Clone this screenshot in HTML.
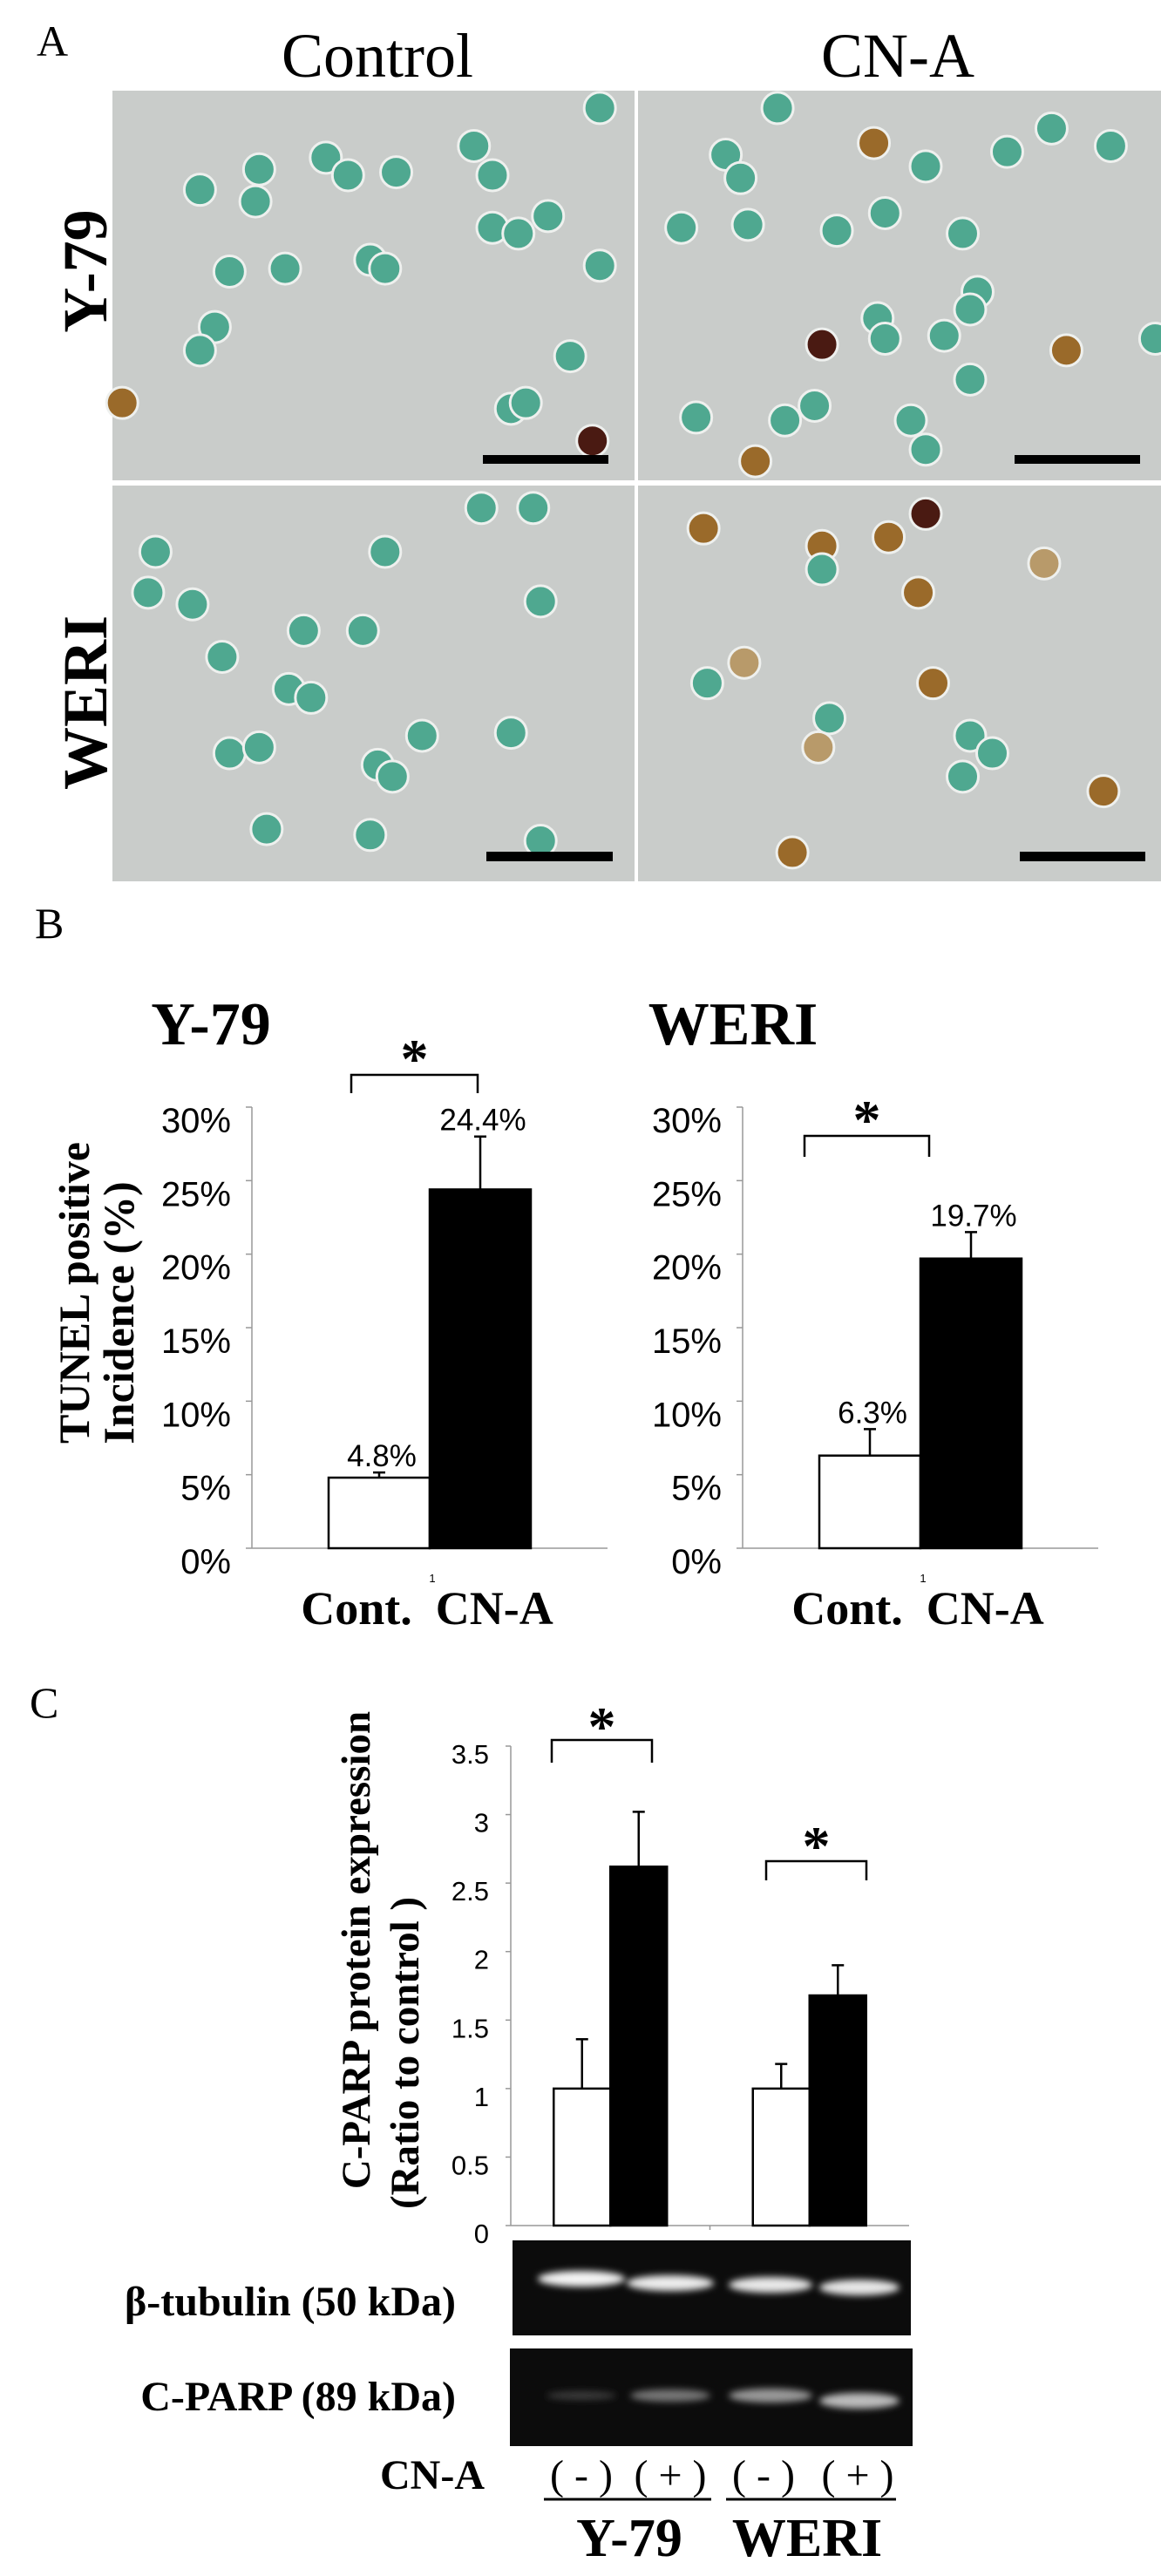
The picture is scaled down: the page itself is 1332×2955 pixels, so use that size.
<!DOCTYPE html>
<html><head><meta charset="utf-8"><title>TUNEL and C-PARP figure</title>
<style>
html,body{margin:0;padding:0;background:#fff;}
svg{display:block;}
.serifb{font-family:"Liberation Serif",serif;font-weight:bold;}
.serif{font-family:"Liberation Serif",serif;}
.sans{font-family:"Liberation Sans",sans-serif;}
</style></head>
<body>
<svg id="fig" xmlns="http://www.w3.org/2000/svg" width="1332" height="2955" viewBox="0 0 1332 2955">
<rect x="0" y="0" width="1332" height="2955" fill="#fff"/>
<!-- Panel A -->
<text class="serif" x="42" y="64" font-size="50">A</text>
<text class="serif" x="433" y="88" font-size="72" text-anchor="middle">Control</text>
<text class="serif" x="1030" y="88" font-size="72" text-anchor="middle">CN-A</text>
<text class="serifb" font-size="72" text-anchor="middle" transform="translate(122,311) rotate(-90)">Y-79</text>
<text class="serifb" font-size="72" text-anchor="middle" transform="translate(122,806) rotate(-90)">WERI</text>
<g id="micro"></g>
<!-- Panel B -->
<text class="serif" x="40" y="1076" font-size="50">B</text>
<text class="serifb" x="242" y="1198" font-size="70" text-anchor="middle">Y-79</text>
<text class="serifb" x="841" y="1198" font-size="70" text-anchor="middle">WERI</text>
<text class="serifb" font-size="50" text-anchor="middle" transform="translate(102,1483) rotate(-90)">TUNEL positive</text>
<text class="serifb" font-size="50" text-anchor="middle" transform="translate(153,1506) rotate(-90)">Incidence (%)</text>
<g id="chartB"></g>
<!-- Panel C -->
<text class="serif" x="34" y="1970" font-size="50">C</text>
<text class="serifb" font-size="47" text-anchor="middle" transform="translate(424,2237) rotate(-90)">C-PARP protein expression</text>
<text class="serifb" font-size="47" text-anchor="middle" transform="translate(480,2355) rotate(-90)">(Ratio to control )</text>
<g id="chartC"></g>
<!-- Blots -->
<rect x="588" y="2570" width="457" height="109" fill="#0c0c0c"/>
<rect x="585" y="2694" width="462" height="112" fill="#0c0c0c"/>
<defs>
<filter id="blur4" x="-30%" y="-100%" width="160%" height="300%"><feGaussianBlur stdDeviation="4"/></filter>
</defs>
<g filter="url(#blur4)">
<ellipse cx="667" cy="2614" rx="50" ry="9" fill="#f4f4f4"/>
<ellipse cx="769" cy="2619" rx="50" ry="9" fill="#ececec"/>
<ellipse cx="884" cy="2621" rx="48" ry="9" fill="#e8e8e8"/>
<ellipse cx="986" cy="2624" rx="46" ry="9" fill="#e6e6e6"/>
<ellipse cx="667" cy="2748" rx="40" ry="5" fill="#3a3a3a"/>
<ellipse cx="769" cy="2748" rx="46" ry="7" fill="#777"/>
<ellipse cx="884" cy="2748" rx="48" ry="8" fill="#999"/>
<ellipse cx="986" cy="2754" rx="46" ry="9" fill="#bbb"/>
</g>
<text class="serifb" x="523" y="2656" font-size="48" text-anchor="end">β-tubulin (50 kDa)</text>
<text class="serifb" x="523" y="2765" font-size="48" text-anchor="end">C-PARP (89 kDa)</text>
<text class="serifb" x="556" y="2855" font-size="48" text-anchor="end">CN-A</text>
<text class="serif" x="667" y="2855" font-size="48" text-anchor="middle">( - )</text>
<text class="serif" x="769" y="2855" font-size="48" text-anchor="middle">( + )</text>
<text class="serif" x="876" y="2855" font-size="48" text-anchor="middle">( - )</text>
<text class="serif" x="984" y="2855" font-size="48" text-anchor="middle">( + )</text>
<line x1="624" y1="2867" x2="816" y2="2867" stroke="#000" stroke-width="3"/>
<line x1="833" y1="2867" x2="1028" y2="2867" stroke="#000" stroke-width="3"/>
<text class="serifb" x="722" y="2932" font-size="62" text-anchor="middle">Y-79</text>
<text class="serifb" x="926" y="2932" font-size="62" text-anchor="middle">WERI</text>
</svg>
<script>
// ---- Chart data ----
const tunelCategories = ['Cont.', 'CN-A'];
const tunelTicks = [0, 5, 10, 15, 20, 25, 30];
const tunelTickLabels = ['0%', '5%', '10%', '15%', '20%', '25%', '30%'];
const y79Values = [4.8, 24.4];
const y79Errors = [0.35, 3.6];
const y79Labels = ['4.8%', '24.4%'];
const weriValues = [6.3, 19.7];
const weriErrors = [1.8, 1.8];
const weriLabels = ['6.3%', '19.7%'];
const parpGroups = ['Y-79', 'WERI'];
const parpControl = [1, 1];
const parpTreated = [2.62, 1.68];
const parpControlErr = [0.36, 0.18];
const parpTreatedErr = [0.40, 0.22];
const parpTicks = [0, 0.5, 1, 1.5, 2, 2.5, 3, 3.5];
const parpTickLabels = ['0', '0.5', '1', '1.5', '2', '2.5', '3', '3.5'];

const NS = 'http://www.w3.org/2000/svg';
function mk(parent, tag, attrs, text) {
  const e = document.createElementNS(NS, tag);
  for (const k in attrs) e.setAttribute(k, attrs[k]);
  if (text !== undefined) e.textContent = text;
  parent.appendChild(e);
  return e;
}

// ---- Micrographs (decorative) ----
const micro = document.getElementById('micro');
const panels = [
  {x:129,y:104,w:599,h:447,name:'micrograph-y79-control'},
  {x:732,y:104,w:600,h:447,name:'micrograph-y79-cna'},
  {x:129,y:557,w:599,h:454,name:'micrograph-weri-control'},
  {x:732,y:557,w:600,h:454,name:'micrograph-weri-cna'}
];
panels.forEach(p => {
  const r = mk(micro, 'rect', {x:p.x, y:p.y, width:p.w, height:p.h, fill:'#c9ccca'});
  
  
});
const G='g', B='b', D='d', T='t';
const cells = [
 [270,325,G],[350,290,G],[345,345,G],[440,270,G],[470,300,G],[535,295,G],[640,250,G],[665,300,G],[665,390,G],[700,400,G],[810,185,G],[740,370,G],[310,465,G],[385,460,G],[500,445,G],[520,460,G],[810,455,G],[290,560,G],[270,600,G],[770,610,G],[690,700,G],[710,690,G],[800,755,D],[165,690,B],
 [1050,185,G],[1180,245,B],[1250,285,G],[980,265,G],[1000,305,G],[920,390,G],[1010,385,G],[1130,395,G],[1195,365,G],[1300,400,G],[1320,500,G],[1310,530,G],[1110,590,D],[1185,545,G],[1195,580,G],[1275,575,G],[1440,600,B],[1310,650,G],[940,715,G],[1060,720,G],[1100,695,G],[1230,720,G],[1250,770,G],[1020,790,B],[1560,580,G],[1500,250,G],[1360,260,G],[1420,220,G],
 [210,945,G],[200,1015,G],[260,1035,G],[520,945,G],[490,1080,G],[410,1080,G],[300,1125,G],[390,1180,G],[420,1195,G],[730,1030,G],[310,1290,G],[350,1280,G],[570,1260,G],[690,1255,G],[510,1310,G],[530,1330,G],[500,1430,G],[730,1440,G],[650,870,G],[720,870,G],[360,1420,G],
 [950,905,B],[1250,880,D],[1110,935,B],[1110,975,G],[1200,920,B],[1240,1015,B],[1410,965,T],[1005,1135,T],[955,1170,G],[1260,1170,B],[1120,1230,G],[1105,1280,T],[1310,1260,G],[1300,1330,G],[1340,1290,G],[1490,1355,B],[1070,1460,B]
];
const cellFill = {g:'#4fa890', b:'#9a6a2a', d:'#4a1a12', t:'#b89a6a'};
cells.forEach(c => {
  const cx = c[0]/1.177, cy = c[1]/1.493;
  const e = mk(micro, 'circle', {cx:cx, cy:cy, r:18, fill:cellFill[c[2]], stroke:'#eef0ee', 'stroke-width':3});
  
  
});
[[554,522,144,10],[1164,522,144,10],[558,977,145,11],[1170,977,144,11]].forEach(s => {
  const e = mk(micro, 'rect', {x:s[0], y:s[1], width:s[2], height:s[3], fill:'#000'});
  
  
});

// ---- Panel B charts ----
const chartB = document.getElementById('chartB');
function tunelChart(axisX, values, errors, labels, prefix) {
  const base = 1776, top = 1270, maxV = 30, axisLen = 408;
  const y = v => base - (v / maxV) * (base - top);
  const x = i => axisX + axisLen / 2 + (i - 1) * 116;
  let e = mk(chartB, 'line', {x1:axisX, y1:top, x2:axisX, y2:base, stroke:'#999', 'stroke-width':1.5});
  
  
  e = mk(chartB, 'line', {x1:axisX, y1:base, x2:axisX + axisLen, y2:base, stroke:'#999', 'stroke-width':1.5});
  
  
  tunelTicks.forEach((t, i) => {
    const tk = mk(chartB, 'line', {x1:axisX - 7, y1:y(t), x2:axisX, y2:y(t), stroke:'#999', 'stroke-width':1.5});
    
    
    const tl = mk(chartB, 'text', {x:axisX - 24, y:y(t) + 29, 'font-size':40, 'text-anchor':'end', class:'sans'}, tunelTickLabels[i]);
    
    
  });
  values.forEach((v, i) => {
    const bx = x(i);
    const bar = mk(chartB, 'rect', {x:bx, y:y(v), width:116, height:base - y(v), fill:i ? '#000' : '#fff', stroke:'#000', 'stroke-width':2.5});
    
    
    const cx = bx + 58, et = y(v + errors[i]);
    const el = mk(chartB, 'path', {d:`M${cx},${y(v)}V${et}M${cx-7},${et}H${cx+7}`, stroke:'#000', 'stroke-width':2.5, fill:'none'});
    
    
    const vl = mk(chartB, 'text', {x:cx + 3, y:et - 7, 'font-size':35, 'text-anchor':'middle', class:'sans'}, labels[i]);
    
    
  });
  const one = mk(chartB, 'text', {x:axisX + axisLen / 2 + 3, y:1815, 'font-size':13, 'text-anchor':'middle', class:'sans'}, '1');
  
  
  const xl = mk(chartB, 'text', {x:axisX + axisLen / 2 - 3, y:1863, 'font-size':54, 'text-anchor':'middle', class:'serifb'}, tunelCategories[0] + '  ' + tunelCategories[1]);
  
  
  xl.setAttribute('xml:space', 'preserve');
  xl.style.whiteSpace = 'pre';
}
tunelChart(289, y79Values, y79Errors, y79Labels, 'y79');
tunelChart(852, weriValues, weriErrors, weriLabels, 'weri');
function bracket(parent, x1, x2, yTop, yBot, starY, name) {
  const b = mk(parent, 'path', {d:`M${x1},${yBot}V${yTop}H${x2}V${yBot}`, stroke:'#000', 'stroke-width':2.5, fill:'none'});
  
  
  const s = mk(parent, 'text', {x:(x1 + x2) / 2, y:starY, 'font-size':64, 'text-anchor':'middle', class:'serifb'}, '*');
  
  
}
bracket(chartB, 403, 548, 1233, 1254, 1236, 'y79');
bracket(chartB, 923, 1066, 1303, 1327, 1306, 'weri');

// ---- Panel C chart ----
const chartC = document.getElementById('chartC');
(function () {
  const axisX = 586, axisLen = 457, base = 2553, top = 2003, maxV = 3.5, bw = 65;
  const y = v => base - (v / maxV) * (base - top);
  const gx = i => axisX + (i + 0.5) * (axisLen / parpGroups.length);
  let e = mk(chartC, 'line', {x1:axisX, y1:top, x2:axisX, y2:base, stroke:'#999', 'stroke-width':1.5});
  
  
  e = mk(chartC, 'line', {x1:axisX, y1:base, x2:axisX + axisLen, y2:base, stroke:'#999', 'stroke-width':1.5});
  
  
  e = mk(chartC, 'line', {x1:axisX + axisLen / 2, y1:base, x2:axisX + axisLen / 2, y2:base + 5, stroke:'#999', 'stroke-width':1.5});
  
  
  parpTicks.forEach((t, i) => {
    const tk = mk(chartC, 'line', {x1:axisX - 6, y1:y(t), x2:axisX, y2:y(t), stroke:'#999', 'stroke-width':1.5});
    
    
    const tl = mk(chartC, 'text', {x:561, y:y(t) + 20, 'font-size':31, 'text-anchor':'end', class:'sans'}, parpTickLabels[i]);
    
    
  });
  parpGroups.forEach((g, i) => {
    [[parpControl[i], parpControlErr[i], '#fff', -bw, 'control'], [parpTreated[i], parpTreatedErr[i], '#000', 0, 'cna']].forEach(d => {
      const bx = gx(i) + d[3];
      const bar = mk(chartC, 'rect', {x:bx, y:y(d[0]), width:bw, height:base - y(d[0]), fill:d[2], stroke:'#000', 'stroke-width':2.5});
      
      
      const cx = bx + bw / 2, et = y(d[0] + d[1]);
      const el = mk(chartC, 'path', {d:`M${cx},${y(d[0])}V${et}M${cx-7},${et}H${cx+7}`, stroke:'#000', 'stroke-width':2.5, fill:'none'});
      
      
    });
  });
})();
bracket(chartC, 633, 748, 1996, 2022, 2002, 'parp-y79');
bracket(chartC, 879, 994, 2135, 2157, 2139, 'parp-weri');
</script>
</body></html>
